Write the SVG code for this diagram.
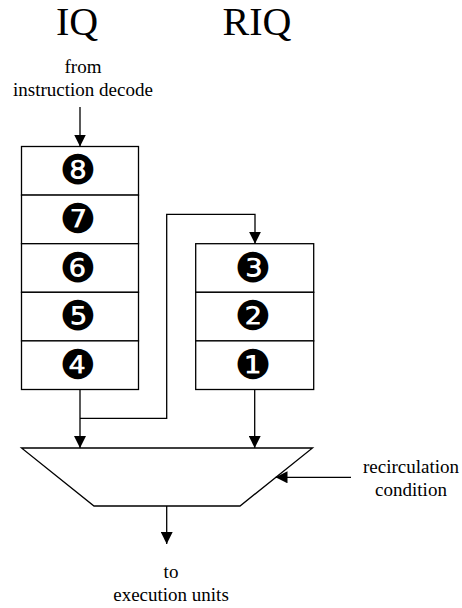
<svg xmlns="http://www.w3.org/2000/svg" width="462" height="608" viewBox="0 0 462 608">
  <defs>
    <marker id="arrow" viewBox="0 0 12 12" refX="12" refY="6" markerWidth="12" markerHeight="12" markerUnits="userSpaceOnUse" orient="auto">
      <path d="M0,0 L12,6 L0,12 Z" fill="#000"/>
    </marker>
  </defs>
  <style>
    .title { font-family: "Liberation Serif", "Times New Roman", serif; font-size: 40px; fill: #000; text-anchor: middle; }
    .label { font-family: "Liberation Serif", "Times New Roman", serif; font-size: 19px; fill: #000; text-anchor: middle; }
    .cell { fill: #fff; stroke: #000; stroke-width: 1.3; }
    .num { font-family: "DejaVu Sans", sans-serif; font-size: 41px; fill: #000; text-anchor: middle; dominant-baseline: central; }
    .wire { fill: none; stroke: #000; stroke-width: 1.3; }
    .arrowed { marker-end: url(#arrow); }
  </style>

  <rect width="462" height="608" fill="#fff"/>

  <!-- headings -->
  <text class="title" x="77" y="35">IQ</text>
  <text class="title" x="257" y="35">RIQ</text>

  <!-- instruction queue -->
  <g id="iq">
    <text class="label" x="83" y="73">from</text>
    <text class="label" x="83" y="96">instruction decode</text>
    <rect class="cell" x="21.5" y="146.5" width="117" height="48.6"/>
    <rect class="cell" x="21.5" y="195.1" width="117" height="48.6"/>
    <rect class="cell" x="21.5" y="243.7" width="117" height="48.6"/>
    <rect class="cell" x="21.5" y="292.3" width="117" height="48.6"/>
    <rect class="cell" x="21.5" y="340.9" width="117" height="48.6"/>
    <text class="num" x="78" y="170.3">❽</text>
    <text class="num" x="78" y="218.9">❼</text>
    <text class="num" x="78" y="267.5">❻</text>
    <text class="num" x="78" y="316.1">❺</text>
    <text class="num" x="78" y="364.7">❹</text>
  </g>

  <!-- recirculation queue -->
  <g id="riq">
    <rect class="cell" x="195.7" y="243.7" width="118" height="48.6"/>
    <rect class="cell" x="195.7" y="292.3" width="118" height="48.6"/>
    <rect class="cell" x="195.7" y="340.9" width="118" height="48.6"/>
    <text class="num" x="253" y="267.5">❸</text>
    <text class="num" x="253" y="316.1">❷</text>
    <text class="num" x="253" y="364.7">❶</text>
  </g>

  <!-- multiplexer -->
  <g id="mux">
    <path class="wire" d="M21.5,448 L312.5,448 L240,506 L94,506 Z" fill="#fff"/>
  </g>

  <g id="recirc-label">
    <text class="label" x="411" y="473">recirculation</text>
    <text class="label" x="411" y="496">condition</text>
  </g>

  <g id="output-label">
    <text class="label" x="171" y="578">to</text>
    <text class="label" x="171" y="601">execution units</text>
  </g>

  <!-- connectors -->
  <g id="connectors">
    <line class="wire arrowed" x1="80" y1="107" x2="80" y2="146.5"/>
    <line class="wire arrowed" x1="80" y1="389.5" x2="80" y2="448"/>
    <polyline class="wire arrowed" points="80,418.3 166.7,418.3 166.7,214.3 255,214.3 255,243.7"/>
    <line class="wire arrowed" x1="254.7" y1="389.5" x2="254.7" y2="448"/>
    <line class="wire arrowed" x1="166.7" y1="506" x2="166.7" y2="544"/>
    <line class="wire arrowed" x1="351" y1="477.3" x2="275.5" y2="477.3"/>
  </g>
</svg>
